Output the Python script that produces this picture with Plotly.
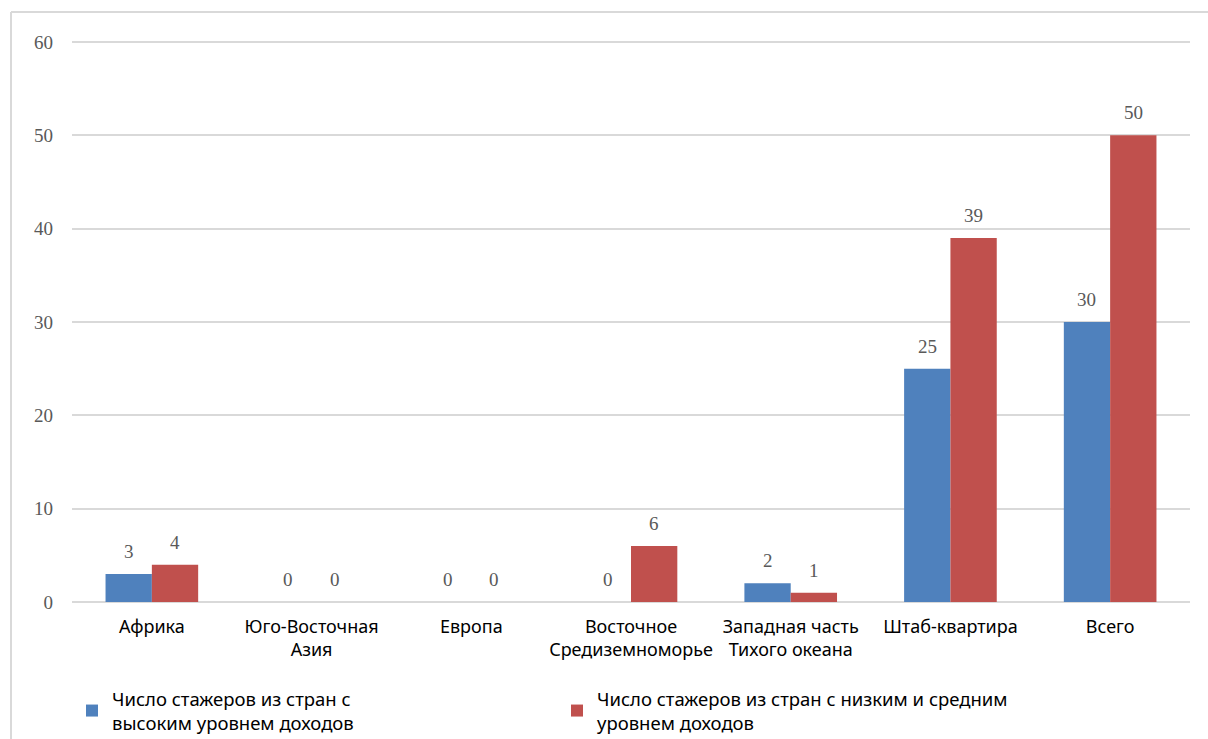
import plotly.graph_objects as go

regions = [
    "Африка",
    "Юго-Восточная<br>Азия",
    "Европа",
    "Восточное<br>Средиземноморье",
    "Западная часть<br>Тихого океана",
    "Штаб-квартира",
    "Всего",
]
high_income = [3, 0, 0, 0, 2, 25, 30]
low_mid_income = [4, 0, 0, 6, 1, 39, 50]
series_names = [
    "Число стажеров из стран с<br>высоким уровнем доходов",
    "Число стажеров из стран с низким и средним<br>уровнем доходов",
]
y_ticks = [0, 10, 20, 30, 40, 50, 60]

BLUE = "#4F81BD"
RED = "#C0504D"
GRID = "#D9D9D9"
LABEL_GRAY = "#595959"
SERIF = "Liberation Serif, Times New Roman, serif"
SANS = "Noto Sans, Open Sans, sans-serif"

W, H = 1208, 739
Y_TOP_TICK = 60
Y_MAX = 61  # a little headroom so the top gridline is drawn
ml, mr, mb = 72, 18, 137
top_grid_px = 42
unit_px = (H - mb - top_grid_px) / Y_TOP_TICK
mt = round(top_grid_px - (Y_MAX - Y_TOP_TICK) * unit_px)
pw, ph = W - ml - mr, H - mt - mb
Y_MAX = ph / unit_px
BARGAP = 0.42
# half of one bar's width in pixels (two bars per category)
half_bar = pw / len(regions) * (1 - BARGAP) / 4

fig = go.Figure()
series = [
    (series_names[0], high_income, BLUE, -half_bar),
    (series_names[1], low_mid_income, RED, half_bar),
]
for name, vals, color, shift in series:
    fig.add_trace(go.Bar(
        x=regions,
        y=vals,
        name=name,
        marker=dict(color=color, line=dict(width=0)),
    ))
    # value labels above each bar
    for cat, v in zip(regions, vals):
        fig.add_annotation(
            x=cat, y=v, text=str(v),
            xshift=shift, yshift=10,
            yanchor="bottom", showarrow=False,
            font=dict(family=SERIF, size=19, color=LABEL_GRAY),
        )

# outer chart frame (top and left edges visible)
fx0 = (11 - ml) / pw
fy1 = 1 + (mt - 12) / ph
fig.add_shape(type="line", xref="paper", yref="paper",
              x0=fx0, x1=1 + mr / pw + 0.01, y0=fy1, y1=fy1,
              line=dict(color=GRID, width=2))
fig.add_shape(type="line", xref="paper", yref="paper",
              x0=fx0, x1=fx0, y0=fy1, y1=-mb / ph - 0.01,
              line=dict(color=GRID, width=2))

fig.update_layout(
    width=W, height=H,
    margin=dict(l=ml, r=mr, t=mt, b=mb, autoexpand=False),
    paper_bgcolor="white",
    plot_bgcolor="white",
    barmode="group",
    bargap=BARGAP,
    bargroupgap=0,
    xaxis=dict(
        showgrid=False,
        showline=False,
        ticks="",
        tickfont=dict(family=SANS, size=18, color="#000000"),
        ticklabelstandoff=12,
    ),
    yaxis=dict(
        range=[0, Y_MAX],
        tickvals=y_ticks,
        showgrid=True,
        gridcolor=GRID,
        gridwidth=2,
        zeroline=True,
        zerolinecolor=GRID,
        zerolinewidth=2,
        showline=False,
        ticks="",
        tickfont=dict(family=SERIF, size=19, color=LABEL_GRAY),
        ticklabelstandoff=18,
    ),
    legend=dict(
        orientation="h",
        x=0.0, xanchor="left",
        y=-(680 - (H - mb)) / ph, yanchor="top",
        entrywidth=440,
        entrywidthmode="pixels",
        font=dict(family=SANS, size=18.5, color="#000000"),
        itemsizing="constant",
        traceorder="normal",
    ),
)

fig.write_html("out.html")
